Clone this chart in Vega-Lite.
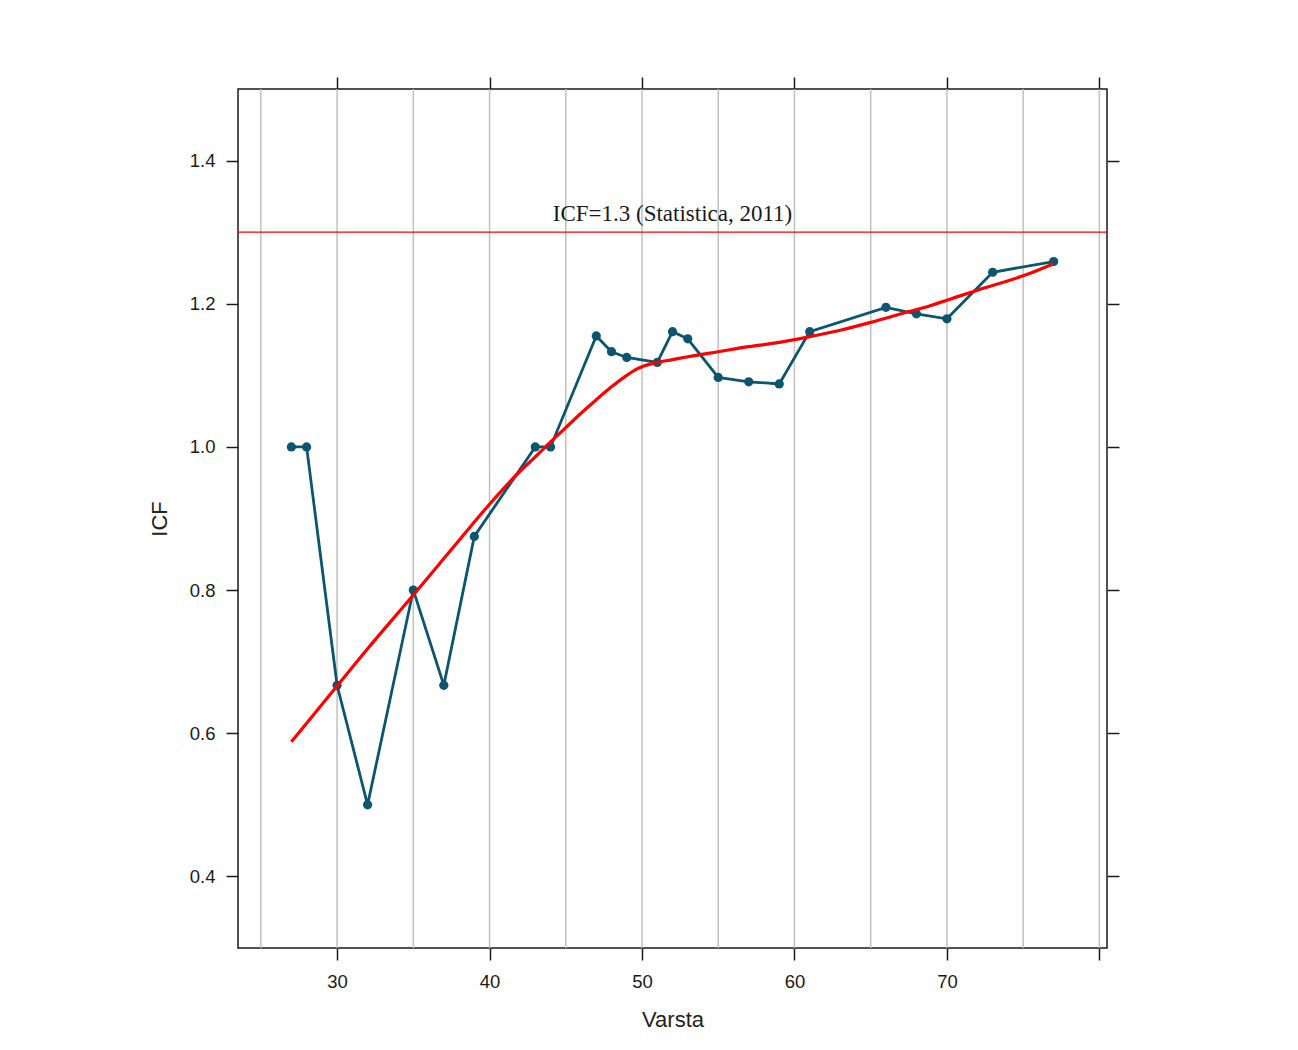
{
  "$schema": "https://vega.github.io/schema/vega-lite/v6.json",
  "width": 869,
  "height": 859,
  "autosize": {"type": "none"},
  "padding": {"left": 238, "top": 89, "right": 191, "bottom": 102},
  "background": "white",
  "config": {
    "view": {"stroke": "#1a1a1a", "strokeWidth": 1.5},
    "axis": {
      "labelFont": "Liberation Sans",
      "titleFont": "Liberation Sans",
      "labelFontSize": 18.5,
      "titleFontSize": 22,
      "titleFontWeight": "normal",
      "labelColor": "#1a1a1a",
      "titleColor": "#222222",
      "tickColor": "#1a1a1a",
      "tickWidth": 1.5,
      "tickSize": 12,
      "domain": false,
      "grid": false
    }
  },
  "datasets": {
    "obs": [
      {"Varsta": 27, "ICF": 1.0},
      {"Varsta": 28, "ICF": 1.0},
      {"Varsta": 30, "ICF": 0.667},
      {"Varsta": 32, "ICF": 0.5},
      {"Varsta": 35, "ICF": 0.8},
      {"Varsta": 37, "ICF": 0.667},
      {"Varsta": 39, "ICF": 0.875},
      {"Varsta": 43, "ICF": 1.0},
      {"Varsta": 44, "ICF": 1.0},
      {"Varsta": 47, "ICF": 1.155},
      {"Varsta": 48, "ICF": 1.133},
      {"Varsta": 49, "ICF": 1.125},
      {"Varsta": 51, "ICF": 1.118},
      {"Varsta": 52, "ICF": 1.161},
      {"Varsta": 53, "ICF": 1.151},
      {"Varsta": 55, "ICF": 1.097},
      {"Varsta": 57, "ICF": 1.091},
      {"Varsta": 59, "ICF": 1.088},
      {"Varsta": 61, "ICF": 1.161},
      {"Varsta": 66, "ICF": 1.195},
      {"Varsta": 68, "ICF": 1.186},
      {"Varsta": 70, "ICF": 1.179},
      {"Varsta": 73, "ICF": 1.244},
      {"Varsta": 77, "ICF": 1.259}
    ],
    "smooth": [
      {"Varsta": 27, "fit": 0.588},
      {"Varsta": 28, "fit": 0.614},
      {"Varsta": 30, "fit": 0.666},
      {"Varsta": 32, "fit": 0.718},
      {"Varsta": 35, "fit": 0.793},
      {"Varsta": 37, "fit": 0.844},
      {"Varsta": 39, "fit": 0.895},
      {"Varsta": 40, "fit": 0.92},
      {"Varsta": 42, "fit": 0.966},
      {"Varsta": 43, "fit": 0.986},
      {"Varsta": 44, "fit": 1.007},
      {"Varsta": 45, "fit": 1.027},
      {"Varsta": 46, "fit": 1.047},
      {"Varsta": 47, "fit": 1.066},
      {"Varsta": 48, "fit": 1.084},
      {"Varsta": 49, "fit": 1.1},
      {"Varsta": 49.5, "fit": 1.107},
      {"Varsta": 50, "fit": 1.112},
      {"Varsta": 51, "fit": 1.118},
      {"Varsta": 52, "fit": 1.122},
      {"Varsta": 53, "fit": 1.126},
      {"Varsta": 55, "fit": 1.133},
      {"Varsta": 57, "fit": 1.14},
      {"Varsta": 59, "fit": 1.146},
      {"Varsta": 61, "fit": 1.154},
      {"Varsta": 63, "fit": 1.163},
      {"Varsta": 65, "fit": 1.174},
      {"Varsta": 67, "fit": 1.186},
      {"Varsta": 69, "fit": 1.198},
      {"Varsta": 70, "fit": 1.205},
      {"Varsta": 72, "fit": 1.219},
      {"Varsta": 75, "fit": 1.239},
      {"Varsta": 77, "fit": 1.256}
    ],
    "grid": [
      {"g": 25}, {"g": 30}, {"g": 35}, {"g": 40}, {"g": 45}, {"g": 50},
      {"g": 55}, {"g": 60}, {"g": 65}, {"g": 70}, {"g": 75}, {"g": 80}
    ],
    "ref": [
      {"Varsta": 52, "ICF": 1.3, "label": "ICF=1.3 (Statistica, 2011)"}
    ]
  },
  "resolve": {"axis": {"x": "independent", "y": "independent"}},
  "layer": [
    {
      "data": {"name": "grid"},
      "mark": {"type": "rule", "color": "#c0c0c0", "strokeWidth": 1.5},
      "encoding": {
        "x": {"field": "g", "type": "quantitative", "scale": {"domain": [23.5, 80.5], "nice": false, "zero": false}, "axis": null}
      }
    },
    {
      "data": {"name": "ref"},
      "mark": {"type": "rule", "color": "#ff0000", "strokeWidth": 1.2},
      "encoding": {
        "y": {"field": "ICF", "type": "quantitative", "scale": {"domain": [0.3, 1.5], "nice": false, "zero": false}, "axis": null}
      }
    },
    {
      "data": {"name": "ref"},
      "mark": {"type": "text", "font": "Liberation Serif", "fontSize": 23, "color": "#1a1a1a", "baseline": "alphabetic", "align": "center", "dy": -11},
      "encoding": {
        "x": {"field": "Varsta", "type": "quantitative", "axis": null},
        "y": {"field": "ICF", "type": "quantitative", "axis": null},
        "text": {"field": "label"}
      }
    },
    {
      "data": {"name": "obs"},
      "mark": {"type": "line", "color": "#0b566e", "strokeWidth": 2.8, "point": {"filled": true, "size": 85, "color": "#0b566e"}},
      "encoding": {
        "x": {"field": "Varsta", "type": "quantitative", "title": "Varsta",
          "axis": {"orient": "bottom", "values": [30, 40, 50, 60, 70, 80], "labelExpr": "datum.value == 80 ? '' : datum.label", "labelPadding": 12, "titlePadding": 19}},
        "y": {"field": "ICF", "type": "quantitative", "title": "ICF",
          "axis": {"orient": "left", "values": [0.4, 0.6, 0.8, 1.0, 1.2, 1.4], "format": ".1f", "labelPadding": 11, "titlePadding": 18}}
      }
    },
    {
      "data": {"name": "smooth"},
      "mark": {"type": "line", "color": "#ff0000", "strokeWidth": 3.2, "interpolate": "monotone"},
      "encoding": {
        "x": {"field": "Varsta", "type": "quantitative",
          "axis": {"orient": "top", "values": [30, 40, 50, 60, 70, 80], "labels": false, "title": null}},
        "y": {"field": "fit", "type": "quantitative",
          "axis": {"orient": "right", "values": [0.4, 0.6, 0.8, 1.0, 1.2, 1.4], "labels": false, "title": null}}
      }
    }
  ]
}
